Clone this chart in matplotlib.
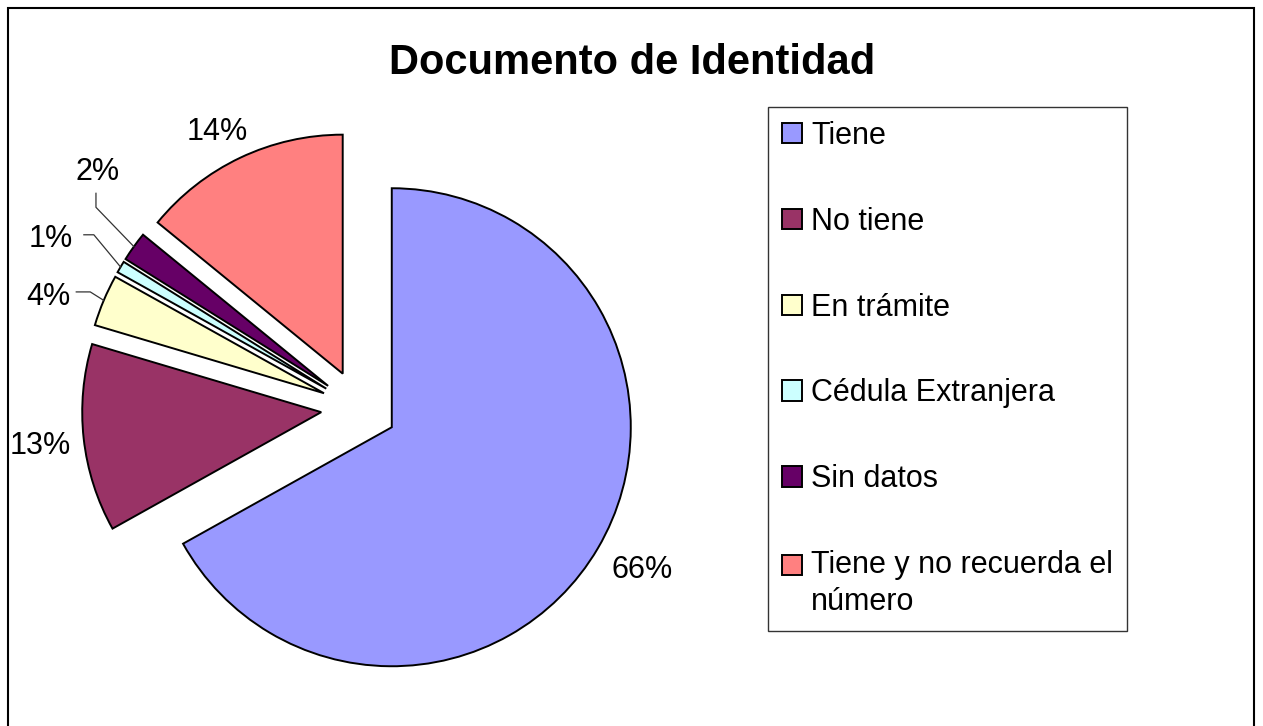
import numpy as np
import matplotlib
matplotlib.use("Agg")
import matplotlib.pyplot as plt
from matplotlib.patches import Rectangle

plt.rcParams['font.family'] = ['Liberation Sans', 'DejaVu Sans']

# data (share of people, percent) and the printed labels
categories = ['Tiene', 'No tiene', 'En trámite', 'Cédula Extranjera',
              'Sin datos', 'Tiene y no recuerda el\nnúmero']
values = [66.9, 12.7, 3.5, 0.8, 2.0, 14.1]
pct_labels = ['66%', '13%', '4%', '1%', '2%', '14%']
colors = ['#9999FF', '#993366', '#FFFFCC', '#CCFFFF', '#660066', '#FF8080']

W, H = 1263, 726
fig = plt.figure(figsize=(W / 100, H / 100), dpi=100)
ax = fig.add_axes([0, 0, 1, 1])

# pixel-like data space, y up
cx, cy, R = 359, H - 408, 239
wedges, _ = ax.pie(values, colors=colors, startangle=90, counterclock=False,
                   radius=R, center=(cx, cy), explode=[38] * len(values),
                   wedgeprops=dict(edgecolor='black', linewidth=1.4))
ax.set_xlim(0, W)
ax.set_ylim(0, H)
ax.set_aspect('auto')
ax.axis('off')

# label placement: distance from pie centre (x radius) and angle tweak
label_dist = [1.36, 1.343, 1.385, 1.477, 1.48, 1.31]
label_turn = [1.1, 0, 2.7, 1.4, -6.8, 1.6]
# leader line elbows relative to label (only small slices)
leaders = {2: [(42, 2), (28, 2)], 3: [(43, 1), (33, 1)], 4: [(-2, -38), (-2, -24)]}

for i, w in enumerate(wedges):
    mid = np.deg2rad((w.theta1 + w.theta2) / 2)
    ang = mid + np.deg2rad(label_turn[i])
    tx = cx + label_dist[i] * R * np.cos(ang)
    ty = cy + label_dist[i] * R * np.sin(ang)
    ax.text(tx, ty - 3, pct_labels[i], ha='center', va='center', fontsize=22)
    if i in leaders:
        wx, wy = w.center
        px = wx + R * np.cos(mid)
        py = wy + R * np.sin(mid)
        (ex, ey), (sx, sy) = leaders[i]
        ax.plot([px, tx + ex, tx + sx], [py, ty + ey, ty + sy],
                color='#333333', lw=0.9)

# outer frame
ax.add_patch(Rectangle((8, -10), 1246, H - 8 + 10, fill=False,
                       edgecolor='black', lw=1.5))

fig.text(632 / W, 1 - 63 / H, 'Documento de Identidad', ha='center',
         va='center', fontsize=30, fontweight='bold')

leg = ax.legend(wedges, categories, loc='upper left',
                bbox_to_anchor=(768, H - 107), bbox_transform=ax.transData,
                borderaxespad=0, fontsize=22, frameon=True, fancybox=False,
                handlelength=0.66, handleheight=0.66, handletextpad=0.3,
                labelspacing=1.83, borderpad=0.45)
leg.get_frame().set_edgecolor('black')
leg.get_frame().set_linewidth(1.0)
for t in leg.get_texts():
    t.set_linespacing(1.3)
# square of the two-line entry sits next to its first line
last = leg.legend_handles[-1]
last.set_y(last.get_y() + 14)

fig.savefig('out.png', dpi=100)
